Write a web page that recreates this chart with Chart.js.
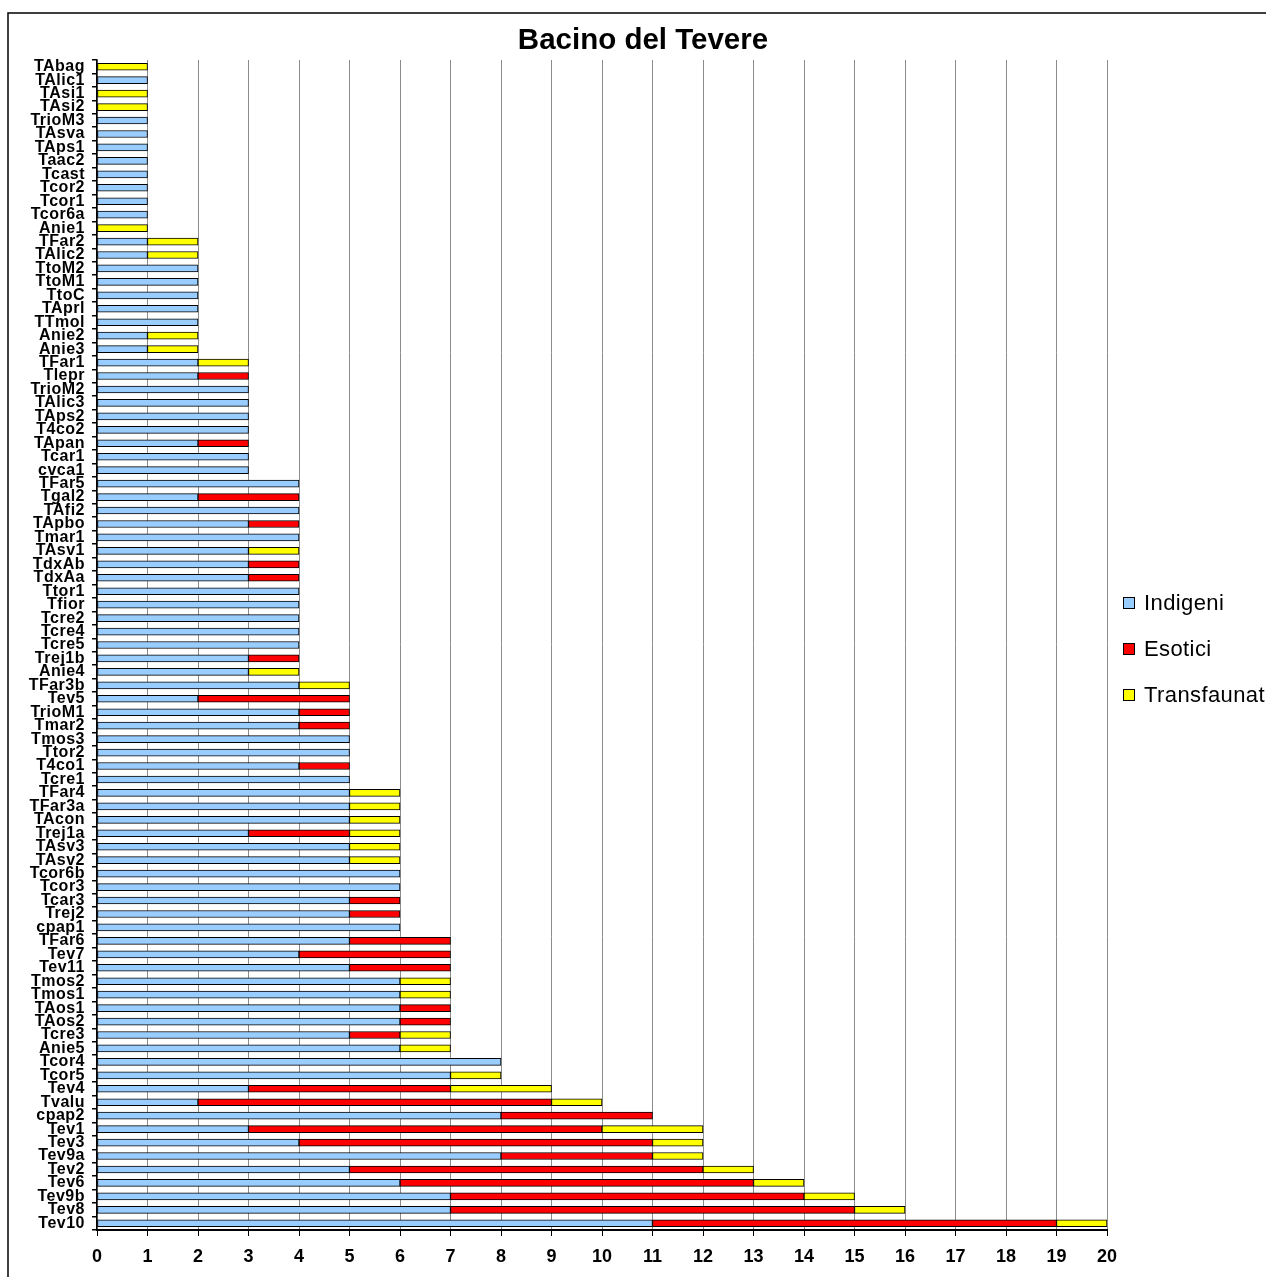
<!DOCTYPE html>
<html>
<head>
<meta charset="utf-8">
<title>Bacino del Tevere</title>
<script src="https://cdn.jsdelivr.net/npm/chart.js@4/dist/chart.umd.min.js"></script>
<style>
  html, body { margin: 0; padding: 0; background: #fff; overflow: hidden; }
  canvas { display: block; }
</style>
</head>
<body>
<canvas id="chart" width="1266" height="1277"></canvas>
<script>
// Stazioni di campionamento (dall'alto verso il basso)
const stations = [
  'TAbag','TAlic1','TAsi1','TAsi2','TrioM3','TAsva','TAps1','Taac2','Tcast','Tcor2',
  'Tcor1','Tcor6a','Anie1','TFar2','TAlic2','TtoM2','TtoM1','TtoC','TAprl','TTmol',
  'Anie2','Anie3','TFar1','Tlepr','TrioM2','TAlic3','TAps2','T4co2','TApan','Tcar1',
  'cvca1','TFar5','Tgal2','TAfi2','TApbo','Tmar1','TAsv1','TdxAb','TdxAa','Ttor1',
  'Tfior','Tcre2','Tcre4','Tcre5','Trej1b','Anie4','TFar3b','Tev5','TrioM1','Tmar2',
  'Tmos3','Ttor2','T4co1','Tcre1','TFar4','TFar3a','TAcon','Trej1a','TAsv3','TAsv2',
  'Tcor6b','Tcor3','Tcar3','Trej2','cpap1','TFar6','Tev7','Tev11','Tmos2','Tmos1',
  'TAos1','TAos2','Tcre3','Anie5','Tcor4','Tcor5','Tev4','Tvalu','cpap2','Tev1',
  'Tev3','Tev9a','Tev2','Tev6','Tev9b','Tev8','Tev10'
];

// Numero di specie per stazione
const indigeni = [
  0,1,0,0,1,1,1,1,1,1,
  1,1,0,1,1,2,2,2,2,2,
  1,1,2,2,3,3,3,3,2,3,
  3,4,2,4,3,4,3,3,3,4,
  4,4,4,4,3,3,4,2,4,4,
  5,5,4,5,5,5,5,3,5,5,
  6,6,5,5,6,5,4,5,6,6,
  6,6,5,6,8,7,3,2,8,3,
  4,8,5,6,7,7,11
];
const esotici = [
  0,0,0,0,0,0,0,0,0,0,
  0,0,0,0,0,0,0,0,0,0,
  0,0,0,1,0,0,0,0,1,0,
  0,0,2,0,1,0,0,1,1,0,
  0,0,0,0,1,0,0,3,1,1,
  0,0,1,0,0,0,0,2,0,0,
  0,0,1,1,0,2,3,2,0,0,
  1,1,1,0,0,0,4,7,3,7,
  7,3,7,7,7,8,8
];
const transfaunati = [
  1,0,1,1,0,0,0,0,0,0,
  0,0,1,1,1,0,0,0,0,0,
  1,1,1,0,0,0,0,0,0,0,
  0,0,0,0,0,0,1,0,0,0,
  0,0,0,0,0,1,1,0,0,0,
  0,0,0,0,1,1,1,1,1,1,
  0,0,0,0,0,0,0,0,1,1,
  0,0,1,1,0,1,2,1,0,2,
  1,1,1,1,1,1,1
];

const seriesNames = ['Indigeni', 'Esotici', 'Transfaunati'];
const seriesValues = [indigeni, esotici, transfaunati];
const seriesColors = ['#99CCFF', '#FF0000', '#FFFF00'];

const xMin = 0, xMax = 20, xStep = 1;
const chartTitle = 'Bacino del Tevere';

const FONT = "'Liberation Sans', Arial, Helvetica, sans-serif";

// Etichette delle stazioni con spaziatura tra le lettere
const spacedStationLabels = {
  id: 'spacedStationLabels',
  beforeDraw(chart) {
    const s = chart.scales.y;
    if (s && !s.__spaced) {
      const orig = s.drawLabels;
      s.drawLabels = function (area) {
        const ctx = this.ctx;
        const prev = ctx.letterSpacing;
        ctx.letterSpacing = '0.5px';
        orig.call(this, area);
        ctx.letterSpacing = prev;
      };
      s.__spaced = true;
    }
  }
};

// Cornice, titolo e legenda
const frameTitleLegend = {
  id: 'frameTitleLegend',
  beforeDraw(chart) {
    const ctx = chart.ctx;
    ctx.save();
    ctx.fillStyle = '#ffffff';
    ctx.fillRect(0, 0, chart.width, chart.height);
    ctx.restore();
  },
  afterDraw(chart) {
    const ctx = chart.ctx;
    ctx.save();
    // cornice esterna
    ctx.strokeStyle = '#000';
    ctx.lineWidth = 1.5;
    ctx.strokeRect(8, 13, chart.width + 40, chart.height + 40);

    // titolo
    ctx.fillStyle = '#000';
    ctx.font = 'bold 29.5px ' + FONT;
    ctx.textAlign = 'center';
    ctx.textBaseline = 'middle';
    ctx.fillText(chartTitle, 643, 41);

    // legenda
    ctx.font = '22px ' + FONT;
    ctx.textAlign = 'left';
    ctx.letterSpacing = '0.4px';
    chart.data.datasets.forEach((ds, i) => {
      const cy = 603 + i * 46;
      ctx.fillStyle = ds.backgroundColor;
      ctx.fillRect(1123, cy - 6, 12, 12);
      ctx.strokeStyle = '#000';
      ctx.lineWidth = 1;
      ctx.strokeRect(1123.5, cy - 5.5, 11, 11);
      ctx.fillStyle = '#000';
      ctx.fillText(ds.label, 1144, cy + 1);
    });
    ctx.restore();
  }
};

const datasets = seriesNames.map((name, i) => ({
  label: name,
  data: seriesValues[i].map(v => (v === 0 ? null : v)),
  backgroundColor: seriesColors[i],
  borderColor: '#000000',
  borderWidth: 1,
  borderSkipped: false,
  barThickness: 7
}));

new Chart(document.getElementById('chart'), {
  type: 'bar',
  data: { labels: stations, datasets },
  plugins: [spacedStationLabels, frameTitleLegend],
  options: {
    indexAxis: 'y',
    responsive: false,
    animation: false,
    devicePixelRatio: 1,
    layout: { padding: { left: 0, right: 159, top: 60, bottom: 0 } },
    plugins: {
      legend: { display: false },
      title: { display: false },
      tooltip: { enabled: false }
    },
    scales: {
      x: {
        type: 'linear',
        stacked: true,
        min: xMin,
        max: xMax,
        ticks: {
          stepSize: xStep,
          color: '#000',
          font: { family: FONT, size: 18, weight: 'bold' },
          padding: 10,
          maxRotation: 0
        },
        grid: {
          color: '#8c8c8c',
          lineWidth: 1,
          tickColor: '#000',
          tickLength: 6,
          drawTicks: true
        },
        border: { color: '#000', width: 2 },
        afterFit(scale) { scale.height = 47; }
      },
      y: {
        type: 'category',
        stacked: true,
        offset: true,
        ticks: {
          color: '#000',
          font: { family: FONT, size: 16, weight: 'bold' },
          padding: 7,
          autoSkip: false
        },
        grid: {
          offset: true,
          drawOnChartArea: false,
          drawTicks: true,
          tickLength: 5,
          color: '#000',
          lineWidth: 1.5
        },
        border: { color: '#000', width: 1.5 },
        afterFit(scale) { scale.width = 97; }
      }
    }
  }
});
</script>
</body>
</html>
